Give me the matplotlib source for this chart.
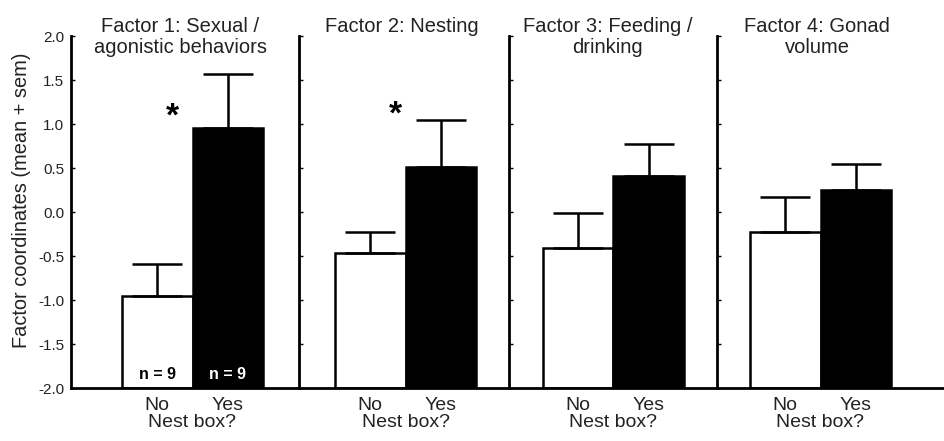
import numpy as np
import matplotlib
matplotlib.use("Agg")
import matplotlib.pyplot as plt
import matplotlib.transforms as mtransforms

plt.rcParams['font.family'] = ['Liberation Sans', 'DejaVu Sans']

# values (mean and sem of factor coordinates)
titles = ["Factor 1: Sexual /\nagonistic behaviors", "Factor 2: Nesting",
          "Factor 3: Feeding /\ndrinking", "Factor 4: Gonad\nvolume"]
groups = ["No", "Yes"]
mean_no = [-0.95, -0.47, -0.41, -0.23]
mean_yes = [0.95, 0.51, 0.41, 0.25]
sem_no = [0.36, 0.24, 0.40, 0.40]
sem_yes = [0.62, 0.53, 0.36, 0.30]
n_labels = ["n = 9", "n = 9"]
# significance stars: (panel, x, y of baseline)
stars = [(0, 0.22, 0.98), (1, 0.35, 1.01)]

ymin, ymax = -2.0, 2.0
yticks = np.arange(-2.0, 2.01, 0.5)

# layout in pixels
W, H = 944, 441
panel_left = [71, 299, 509, 717, W]
bar_offset = [51, 36, 34, 33]
title_x = [0.33, 0.45, 0.42, 0.45]
ppu = 70.5  # pixels per bar width
ax_top, ax_bot = 36, 388

fig = plt.figure(figsize=(W / 100, H / 100), dpi=100)
text_col = '#222222'
axes = []

for i in range(4):
    left = panel_left[i]
    width = panel_left[i + 1] - left
    ax = fig.add_axes([left / W, (H - ax_bot) / H, width / W, (ax_bot - ax_top) / H])
    axes.append(ax)
    x0 = -0.5 - bar_offset[i] / ppu
    ax.set_xlim(x0, x0 + width / ppu)
    ax.set_ylim(ymin, ymax)

    means = [mean_no[i], mean_yes[i]]
    sems = [sem_no[i], sem_yes[i]]
    xs = np.arange(len(groups))
    heights = [m - ymin for m in means]
    ax.bar(xs, heights, bottom=ymin, width=1.0, color=['white', 'black'],
           edgecolor='black', linewidth=1.8, zorder=2)
    ax.errorbar(xs, means, yerr=[[0, 0], sems], fmt='none', ecolor='black',
                elinewidth=1.8, capsize=18, capthick=1.8, zorder=3)

    for sp in ['top', 'right']:
        ax.spines[sp].set_visible(False)
    for sp in ['left', 'bottom']:
        ax.spines[sp].set_linewidth(2.0)
        ax.spines[sp].set_zorder(4)

    ax.set_yticks(yticks)
    ax.tick_params(axis='y', direction='in', length=3, width=1, pad=5,
                   labelsize=11, labelcolor=text_col)
    if i == 0:
        ax.set_yticklabels([f"{v:.1f}" for v in yticks])
    else:
        ax.set_yticklabels([])
    ax.set_xticks(xs)
    ax.set_xticklabels(groups)
    ax.tick_params(axis='x', length=0, pad=6.5, labelsize=14, labelcolor=text_col)

    trans = mtransforms.blended_transform_factory(ax.transData, ax.transAxes)
    ax.text(0.5, -0.074, "Nest box?", transform=trans, ha='center', va='top',
            fontsize=14, color=text_col)
    ax.text(title_x[i], 1.054, titles[i], transform=trans, ha='center', va='top',
            fontsize=14.5, color=text_col, linespacing=1.15)

    if i == 0:
        for x, lab, c in zip(xs, n_labels, ['black', 'white']):
            ax.text(x, -1.85, lab, ha='center', va='center', fontsize=11.5,
                    fontweight='bold', color=c, zorder=5)

for p, sx, sy in stars:
    axes[p].text(sx, sy, "*", ha='center', va='baseline', fontsize=24,
                 fontweight='bold')

fig.text(22 / W, (H - 200) / H, "Factor coordinates (mean + sem)", rotation=90,
         ha='center', va='center', fontsize=14.4, color=text_col)

fig.savefig("out.png", dpi=100)
